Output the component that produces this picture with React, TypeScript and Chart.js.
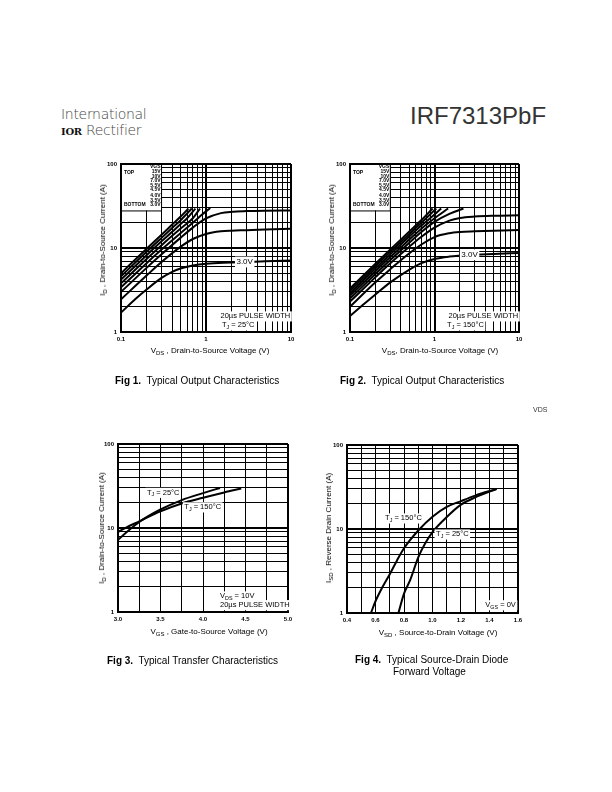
import React, { useEffect, useRef } from "react";
import { Chart, registerables } from "chart.js";
Chart.register(...registerables);

const FONT = "'Liberation Sans', Arial, Helvetica, sans-serif";

// ---------- shared tick definitions ----------
const logTicksVds = [0.1, 0.2, 0.3, 0.4, 0.5, 0.6, 0.7, 0.8, 0.9, 1, 2, 3, 4, 5, 6, 7, 8, 9, 10];
const logTicksId = [1, 2, 3, 4, 5, 6, 7, 8, 9, 10, 20, 30, 40, 50, 60, 70, 80, 90, 100];
const vdsLabelVals = [0.1, 1, 10];
const vdsLabelTexts = ["0.1", "1", "10"];
const idLabelVals = [1, 10, 100];
const idLabelTexts = ["1", "10", "100"];
const fig3Ticks = [3.0, 3.25, 3.5, 3.75, 4.0, 4.25, 4.5, 4.75, 5.0];
const fig3LabelVals = [3.0, 3.5, 4.0, 4.5, 5.0];
const fig3LabelTexts = ["3.0", "3.5", "4.0", "4.5", "5.0"];
const fig4Ticks = [0.4, 0.5, 0.6, 0.7, 0.8, 0.9, 1.0, 1.1, 1.2, 1.3, 1.4, 1.5, 1.6];
const fig4LabelVals = [0.4, 0.6, 0.8, 1.0, 1.2, 1.4, 1.6];
const fig4LabelTexts = ["0.4", "0.6", "0.8", "1.0", "1.2", "1.4", "1.6"];

// ---------- Fig 1 : output characteristics, TJ = 25°C ----------
const legendVgs = ["15V", "10V", "7.0V", "5.5V", "4.5V", "4.0V", "3.5V", "3.0V"];
const f1x15 = [0.1, 0.2, 0.3, 0.4, 0.5, 0.62];
const f1y15 = [5.0, 9.8, 14.4, 19.0, 23.5, 29.5];
const f1x10 = [0.1, 0.2, 0.3, 0.4, 0.5, 0.68];
const f1y10 = [4.6, 9.0, 13.2, 17.3, 21.3, 29.5];
const f1x7 = [0.1, 0.2, 0.3, 0.4, 0.5, 0.6, 0.75];
const f1y7 = [4.2, 8.2, 12.0, 15.6, 19.2, 22.6, 29.5];
const f1x55 = [0.1, 0.2, 0.3, 0.4, 0.5, 0.7, 0.85];
const f1y55 = [3.8, 7.4, 10.8, 14.0, 17.0, 22.6, 29.5];
const f1x45 = [0.1, 0.2, 0.3, 0.5, 0.7, 0.9, 1.12];
const f1y45 = [3.4, 6.6, 9.6, 15.0, 20.0, 25.0, 30.0];
const f1x40 = [0.1, 0.2, 0.3, 0.5, 0.7, 1, 1.5, 2, 3, 5, 10];
const f1y40 = [3.0, 5.8, 8.4, 13.2, 17.5, 22.5, 26.0, 27.0, 27.5, 27.8, 28.0];
const f1x35 = [0.1, 0.2, 0.3, 0.5, 0.7, 1, 1.5, 2, 3, 5, 10];
const f1y35 = [2.45, 4.7, 6.8, 10.3, 12.8, 14.7, 15.8, 16.1, 16.3, 16.6, 17.0];
const f1x30 = [0.1, 0.15, 0.2, 0.3, 0.4, 0.5, 0.7, 1, 2, 3, 5, 10];
const f1y30 = [1.7, 2.5, 3.2, 4.4, 5.2, 5.7, 6.2, 6.5, 6.7, 6.8, 6.95, 7.1];

// ---------- Fig 2 : output characteristics, TJ = 150°C ----------
const f2x15 = [0.1, 0.2, 0.3, 0.5, 0.7, 0.95];
const f2y15 = [3.3, 6.5, 9.6, 15.6, 21.5, 29.5];
const f2x10 = [0.1, 0.2, 0.3, 0.5, 0.7, 1.05];
const f2y10 = [3.1, 6.1, 9.0, 14.6, 20.0, 29.5];
const f2x7 = [0.1, 0.2, 0.3, 0.5, 0.7, 1.0, 1.2];
const f2y7 = [2.9, 5.7, 8.4, 13.6, 18.5, 25.0, 29.5];
const f2x55 = [0.1, 0.2, 0.3, 0.5, 0.7, 1.0, 1.45];
const f2y55 = [2.7, 5.3, 7.8, 12.5, 17.0, 22.5, 29.5];
const f2x45 = [0.1, 0.2, 0.3, 0.5, 0.7, 1.0, 1.5, 2.2];
const f2y45 = [2.5, 4.9, 7.2, 11.5, 15.5, 20.5, 25.5, 29.5];
const f2x40 = [0.1, 0.2, 0.3, 0.5, 0.7, 1, 1.5, 2, 3, 5, 10];
const f2y40 = [2.3, 4.5, 6.6, 10.3, 13.6, 17.5, 21.2, 22.8, 23.7, 24.2, 24.5];
const f2x35 = [0.1, 0.2, 0.3, 0.5, 0.7, 1, 1.5, 2, 3, 5, 10];
const f2y35 = [2.0, 3.9, 5.6, 8.6, 11.0, 13.5, 15.0, 15.5, 15.8, 16.1, 16.4];
const f2x30 = [0.1, 0.15, 0.2, 0.3, 0.5, 0.7, 1, 1.5, 2, 3, 5, 10];
const f2y30 = [1.55, 2.2, 2.8, 3.9, 5.5, 6.6, 7.4, 7.9, 8.1, 8.3, 8.5, 8.7];

// ---------- Fig 3 : transfer characteristics ----------
const f3x25 = [3.0, 3.1, 3.25, 3.5, 3.75, 4.0, 4.2];
const f3y25 = [7.2, 8.9, 11.8, 16.6, 21.5, 26.0, 30.0];
const f3x150 = [3.0, 3.1, 3.25, 3.5, 3.75, 4.0, 4.25, 4.45];
const f3y150 = [9.0, 10.2, 12.0, 15.8, 19.6, 22.9, 26.5, 29.5];

// ---------- Fig 4 : source-drain diode forward voltage ----------
const f4x150 = [0.568, 0.6, 0.65, 0.7, 0.75, 0.8, 0.9, 1.0, 1.1, 1.2, 1.3, 1.45];
const f4y150 = [1.0, 1.38, 2.05, 2.9, 4.2, 5.9, 9.6, 14.0, 18.3, 21.5, 25.0, 30.0];
const f4x25 = [0.761, 0.8, 0.843, 0.9, 0.95, 1.0, 1.1, 1.2, 1.3, 1.45];
const f4y25 = [1.0, 1.7, 2.46, 4.6, 6.8, 9.2, 13.9, 19.5, 23.8, 30.0];

type Run = { t: string; sub?: boolean };
type Label = { x: number; y: number; runs: Run[]; align: "left" | "right" | "center"; size: number; bg?: boolean };

const near = (a: number, b: number) => Math.abs(a - b) < 1e-9 * Math.max(1, Math.abs(b));
const pts = (xs: number[], ys: number[]) => xs.map((x, i) => ({ x, y: ys[i] }));

function drawRuns(ctx: CanvasRenderingContext2D, x: number, y: number, runs: Run[], size: number, align: string, bg?: boolean, bold?: boolean) {
  const f = (s: number) => `${bold ? "bold " : ""}${s}px ${FONT}`;
  let w = 0;
  const ws = runs.map((r) => {
    ctx.font = f(r.sub ? size * 0.72 : size);
    const m = ctx.measureText(r.t).width;
    w += m;
    return m;
  });
  let sx = align === "left" ? x : align === "right" ? x - w : x - w / 2;
  if (bg) {
    ctx.fillStyle = "#fff";
    ctx.fillRect(sx - 1.5, y - size * 0.62, w + 3, size * 1.35);
  }
  ctx.fillStyle = "#000";
  ctx.textBaseline = "middle";
  ctx.textAlign = "left";
  runs.forEach((r, i) => {
    ctx.font = f(r.sub ? size * 0.72 : size);
    ctx.fillText(r.t, sx, r.sub ? y + size * 0.3 : y);
    sx += ws[i];
  });
}

function makeAxis(o: {
  type: "linear" | "logarithmic"; min: number; max: number; ticks: number[];
  labelVals: number[]; labelTexts: string[]; major: number[]; size: number; isX: boolean;
}) {
  return {
    type: o.type,
    min: o.min,
    max: o.max,
    position: o.isX ? "bottom" : "left",
    afterBuildTicks: (s: any) => {
      s.ticks = o.ticks.map((v) => ({ value: v }));
    },
    afterFit: (s: any) => {
      if (o.isX) s.height = o.size;
      else s.width = o.size;
    },
    ticks: {
      autoSkip: false,
      maxRotation: 0,
      minRotation: 0,
      padding: 4,
      color: "#000",
      font: { family: FONT, size: 6, weight: "bold" },
      callback: (v: any) => {
        const i = o.labelVals.findIndex((l) => near(l, Number(v)));
        return i >= 0 ? o.labelTexts[i] : "";
      },
    },
    grid: {
      color: "#000",
      drawTicks: false,
      lineWidth: (c: any) => (c.tick && o.major.some((m) => near(m, c.tick.value)) ? 2 : 1),
    },
    border: { display: true, color: "#000", width: 2 },
  };
}

type Curve = { xs: number[]; ys: number[] };
type FigProps = {
  left: number; top: number; width: number; height: number;
  pt: number; pr: number;
  curves: Curve[];
  xAxis: any; yAxis: any;
  labels: Label[];
  legend?: { boxX: number; boxY: number };
};

function Fig(p: FigProps) {
  const ref = useRef<HTMLCanvasElement | null>(null);
  useEffect(() => {
    if (!ref.current) return;
    const plugin = {
      id: "annot",
      beforeDatasetsDraw(chart: any) {
        if (!p.legend) return;
        const ctx = chart.ctx as CanvasRenderingContext2D;
        const a = chart.chartArea;
        const xs = chart.scales.x, ys = chart.scales.y;
        const r = xs.getPixelForValue(p.legend.boxX);
        const b = ys.getPixelForValue(p.legend.boxY);
        ctx.save();
        ctx.fillStyle = "#fff";
        ctx.fillRect(a.left + 1, a.top + 1, r - a.left - 1, b - a.top - 1);
        ctx.strokeStyle = "#000";
        ctx.lineWidth = 1;
        ctx.beginPath();
        ctx.moveTo(r, a.top);
        ctx.lineTo(r, b + 0.5);
        ctx.lineTo(a.left, b + 0.5);
        ctx.stroke();
        const fs = 5;
        drawRuns(ctx, r - 1, a.top + 3, [{ t: "VGS" }], fs, "right", false, true);
        const rowsY = [8, 12.5, 17, 21.5, 26, 32, 36.5, 41];
        legendVgs.forEach((v, i) => drawRuns(ctx, r - 1, a.top + rowsY[i], [{ t: v }], fs, "right", false, true));
        drawRuns(ctx, a.left + 3, a.top + 9, [{ t: "TOP" }], fs, "left", false, true);
        drawRuns(ctx, a.left + 3, a.top + 41, [{ t: "BOTTOM" }], fs, "left", false, true);
        ctx.restore();
      },
      afterDatasetsDraw(chart: any) {
        const ctx = chart.ctx as CanvasRenderingContext2D;
        const xs = chart.scales.x, ys = chart.scales.y;
        ctx.save();
        p.labels.forEach((l) => {
          drawRuns(ctx, xs.getPixelForValue(l.x), ys.getPixelForValue(l.y), l.runs, l.size, l.align, l.bg);
        });
        ctx.restore();
      },
    };
    const chart = new Chart(ref.current, {
      type: "line",
      data: {
        datasets: p.curves.map((c) => ({
          data: pts(c.xs, c.ys),
          borderColor: "#000",
          borderWidth: 2,
          pointRadius: 0,
          fill: false,
          cubicInterpolationMode: "monotone",
        })),
      },
      options: {
        responsive: false,
        animation: false,
        layout: { padding: { left: 0, top: p.pt, right: p.pr, bottom: 0 } },
        plugins: { legend: { display: false }, tooltip: { enabled: false } },
        scales: { x: p.xAxis, y: p.yAxis },
      } as any,
      plugins: [plugin],
    } as any);
    return () => chart.destroy();
  }, []);
  return (
    <canvas
      ref={ref}
      width={p.width}
      height={p.height}
      style={{ position: "absolute", left: p.left, top: p.top, width: p.width, height: p.height }}
    />
  );
}

const Sub = ({ children }: { children: any }) => (
  <span style={{ fontSize: "0.75em", position: "relative", top: "0.3em" }}>{children}</span>
);

const T = (x: number, y: number, content: any, size: number, extra: any = {}) => (
  <div style={{ position: "absolute", left: x, top: y, fontSize: size, lineHeight: 1, whiteSpace: "nowrap", ...extra }}>{content}</div>
);

const XTitle = ({ cx, cy, children }: { cx: number; cy: number; children: any }) => (
  <div style={{ position: "absolute", left: cx, top: cy, transform: "translate(-50%,-50%)", fontSize: 8, lineHeight: 1, whiteSpace: "nowrap" }}>{children}</div>
);
const YTitle = ({ cx, cy, children }: { cx: number; cy: number; children: any }) => (
  <div style={{ position: "absolute", left: cx, top: cy, transform: "translate(-50%,-50%) rotate(-90deg)", fontSize: 8, lineHeight: 1, whiteSpace: "nowrap" }}>{children}</div>
);

const vdsAxis = (size: number) => makeAxis({ type: "logarithmic", min: 0.1, max: 10, ticks: logTicksVds, labelVals: vdsLabelVals, labelTexts: vdsLabelTexts, major: [0.1, 1, 10], size, isX: true });
const idAxis = (size: number) => makeAxis({ type: "logarithmic", min: 1, max: 100, ticks: logTicksId, labelVals: idLabelVals, labelTexts: idLabelTexts, major: [1, 10, 100], size, isX: false });

const pulse = (x: number, tj: string): Label[] => [
  { x: 9.8, y: 1.55, runs: [{ t: "20µs PULSE WIDTH" }], align: "right", size: 7.5, bg: true },
  { x, y: 1.21, runs: [{ t: "T" }, { t: "J", sub: true }, { t: " = " + tj }], align: "left", size: 7.5, bg: true },
];

export default function App() {
  return (
    <div style={{ position: "absolute", left: 0, top: 0, width: 612, height: 792, background: "#fff", fontFamily: FONT, color: "#000", overflow: "hidden" }}>
      {/* header */}
      {T(61, 107, "International", 14, { fontFamily: "'DejaVu Sans', sans-serif", fontWeight: 200, color: "#444", letterSpacing: "-0.3px" })}
      <div style={{ position: "absolute", left: 61, top: 123, fontSize: 14, lineHeight: 1, whiteSpace: "nowrap", fontFamily: "'DejaVu Sans', sans-serif", fontWeight: 200, color: "#444", letterSpacing: "-0.3px" }}>
        <span style={{ fontFamily: "'DejaVu Serif', serif", fontWeight: "bold", fontSize: 10, color: "#111" }}>IOR</span> Rectifier
      </div>
      {T(410, 104, "IRF7313PbF", 24, { color: "#333" })}

      {/* Fig 1 */}
      <Fig
        left={90} top={150} width={210} height={200} pt={14} pr={9}
        curves={[
          { xs: f1x15, ys: f1y15 }, { xs: f1x10, ys: f1y10 }, { xs: f1x7, ys: f1y7 }, { xs: f1x55, ys: f1y55 },
          { xs: f1x45, ys: f1y45 }, { xs: f1x40, ys: f1y40 }, { xs: f1x35, ys: f1y35 }, { xs: f1x30, ys: f1y30 },
        ]}
        xAxis={vdsAxis(18)} yAxis={idAxis(31)}
        legend={{ boxX: 0.3, boxY: 28 }}
        labels={[{ x: 2.85, y: 6.9, runs: [{ t: "3.0V" }], align: "center", size: 8, bg: true }, ...pulse(1.54, "25°C")]}
      />
      <YTitle cx={103} cy={240}>I<Sub>D</Sub> , Drain-to-Source Current (A)</YTitle>
      <XTitle cx={210} cy={351}>V<Sub>DS</Sub> , Drain-to-Source Voltage (V)</XTitle>
      {T(115, 376, <><b>Fig 1.</b>&nbsp; Typical Output Characteristics</>, 10)}

      {/* Fig 2 */}
      <Fig
        left={320} top={150} width={210} height={200} pt={14} pr={11}
        curves={[
          { xs: f2x15, ys: f2y15 }, { xs: f2x10, ys: f2y10 }, { xs: f2x7, ys: f2y7 }, { xs: f2x55, ys: f2y55 },
          { xs: f2x45, ys: f2y45 }, { xs: f2x40, ys: f2y40 }, { xs: f2x35, ys: f2y35 }, { xs: f2x30, ys: f2y30 },
        ]}
        xAxis={vdsAxis(18)} yAxis={idAxis(30)}
        legend={{ boxX: 0.3, boxY: 28 }}
        labels={[{ x: 2.6, y: 8.4, runs: [{ t: "3.0V" }], align: "center", size: 8, bg: true }, ...pulse(1.41, "150°C")]}
      />
      <YTitle cx={332} cy={240}>I<Sub>D</Sub> , Drain-to-Source Current (A)</YTitle>
      <XTitle cx={440} cy={351}>V<Sub>DS</Sub>, Drain-to-Source Voltage (V)</XTitle>
      {T(340, 376, <><b>Fig 2.</b>&nbsp; Typical Output Characteristics</>, 10)}
      {T(533, 406, "VDS", 7, { color: "#333" })}

      {/* Fig 3 */}
      <Fig
        left={90} top={430} width={210} height={200} pt={14} pr={12}
        curves={[{ xs: f3x25, ys: f3y25 }, { xs: f3x150, ys: f3y150 }]}
        xAxis={makeAxis({ type: "linear", min: 3.0, max: 5.0, ticks: fig3Ticks, labelVals: fig3LabelVals, labelTexts: fig3LabelTexts, major: [3.0, 5.0], size: 18, isX: true })}
        yAxis={idAxis(28)}
        labels={[
          { x: 3.34, y: 26.5, runs: [{ t: "T" }, { t: "J", sub: true }, { t: " = 25°C" }], align: "left", size: 7.5, bg: true },
          { x: 3.78, y: 17.8, runs: [{ t: "T" }, { t: "J", sub: true }, { t: " = 150°C" }], align: "left", size: 7.5, bg: true },
          { x: 4.2, y: 1.55, runs: [{ t: "V" }, { t: "DS", sub: true }, { t: " = 10V" }], align: "left", size: 7.5, bg: true },
          { x: 4.2, y: 1.22, runs: [{ t: "20µs PULSE WIDTH" }], align: "left", size: 7.5, bg: true },
        ]}
      />
      <YTitle cx={102} cy={528}>I<Sub>D</Sub> , Drain-to-Source Current (A)</YTitle>
      <XTitle cx={209} cy={632}>V<Sub>GS</Sub> , Gate-to-Source Voltage (V)</XTitle>
      {T(107, 656, <><b>Fig 3.</b>&nbsp; Typical Transfer Characteristics</>, 10)}

      {/* Fig 4 */}
      <Fig
        left={320} top={430} width={210} height={200} pt={15} pr={12}
        curves={[{ xs: f4x150, ys: f4y150 }, { xs: f4x25, ys: f4y25 }]}
        xAxis={makeAxis({ type: "linear", min: 0.4, max: 1.6, ticks: fig4Ticks, labelVals: fig4LabelVals, labelTexts: fig4LabelTexts, major: [0.4, 1.6], size: 17, isX: true })}
        yAxis={idAxis(27)}
        labels={[
          { x: 0.667, y: 13.5, runs: [{ t: "T" }, { t: "J", sub: true }, { t: " = 150°C" }], align: "left", size: 7.5, bg: true },
          { x: 1.025, y: 8.7, runs: [{ t: "T" }, { t: "J", sub: true }, { t: " = 25°C" }], align: "left", size: 7.5, bg: true },
          { x: 1.585, y: 1.25, runs: [{ t: "V" }, { t: "GS", sub: true }, { t: " = 0V" }], align: "right", size: 7.5, bg: true },
        ]}
      />
      <YTitle cx={329} cy={528}>I<Sub>SD</Sub> , Reverse Drain Current (A)</YTitle>
      <XTitle cx={438} cy={633}>V<Sub>SD</Sub> , Source-to-Drain Voltage (V)</XTitle>
      {T(355, 655, <><b>Fig 4.</b>&nbsp; Typical Source-Drain Diode</>, 10)}
      {T(393, 667, "Forward Voltage", 10)}
    </div>
  );
}
